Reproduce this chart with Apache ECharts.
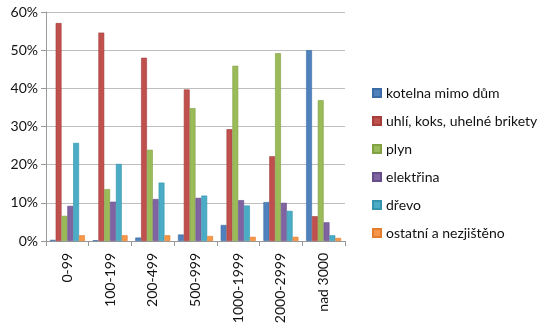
<!DOCTYPE html>
<html><head><meta charset="utf-8">
<script src="https://cdn.jsdelivr.net/npm/echarts@6/dist/echarts.min.js"></script>
<style>html,body{margin:0;padding:0;background:#fff}#c{width:550px;height:330px}</style>
</head><body><div id="c"></div>
<script>
var categories = ['0-99','100-199','200-499','500-999','1000-1999','2000-2999','nad 3000'];
var seriesNames = ['kotelna mimo dům','uhlí, koks, uhelné brikety','plyn','elektřina','dřevo','ostatní a nezjištěno'];
var kotelna = [0.3, 0.2, 0.9, 1.7, 4.2, 10.2, 50.0];
var uhli    = [57.1, 54.6, 48.0, 39.7, 29.3, 22.2, 6.5];
var plyn    = [6.6, 13.6, 23.9, 34.8, 45.9, 49.2, 36.9];
var elektrina = [9.2, 10.3, 11.0, 11.3, 10.7, 10.0, 4.9];
var drevo   = [25.7, 20.2, 15.3, 11.9, 9.3, 7.9, 1.5];
var ostatni = [1.5, 1.5, 1.5, 1.3, 1.1, 1.1, 0.8];
var yTicks = [0, 10, 20, 30, 40, 50, 60];

var colors = ['#4F81BD','#C0504D','#9BBB59','#8064A2','#4BACC6','#F79646'];
var borders = ['#3A6BA5','#A33E3B','#82A044','#674C8A','#3493AD','#E07E2E'];
var allData = [kotelna, uhli, plyn, elektrina, drevo, ostatni];
var font = 'Lato, "Open Sans", sans-serif';

var chart = echarts.init(document.getElementById('c'), null, {renderer:'canvas'});
chart.setOption({
  animation:false,
  color: colors,
  grid:{left:46, right:205, top:12, bottom:89},
  legend:{
    orient:'vertical', left:367, top:80, itemWidth:8, itemHeight:8, itemGap:12,
    icon:'rect',
    textStyle:{fontFamily:font, fontSize:14, lineHeight:16, color:'#111', padding:[0,0,0,0]},
    data: seriesNames
  },
  xAxis:{
    type:'category', data:categories,
    axisLine:{lineStyle:{color:'#999'}},
    axisTick:{show:true, length:5, lineStyle:{color:'#999'}},
    axisLabel:{rotate:90, fontFamily:font, fontSize:14, color:'#111', margin:12}
  },
  yAxis:{
    type:'value', min:yTicks[0], max:yTicks[yTicks.length-1], interval:10,
    axisLine:{show:true, lineStyle:{color:'#999'}},
    axisTick:{show:true, length:5, lineStyle:{color:'#999'}},
    splitLine:{lineStyle:{color:'#BEBEBE'}},
    axisLabel:{formatter:'{value}%', fontFamily:font, fontSize:14, color:'#111', margin:8}
  },
  series: seriesNames.map(function(n,i){
    return {name:n, type:'bar', data:allData[i], barGap:'0%', barCategoryGap:'18%',
      itemStyle:{color:colors[i], borderColor:borders[i], borderWidth:0.6}};
  })
});
</script></body></html>
